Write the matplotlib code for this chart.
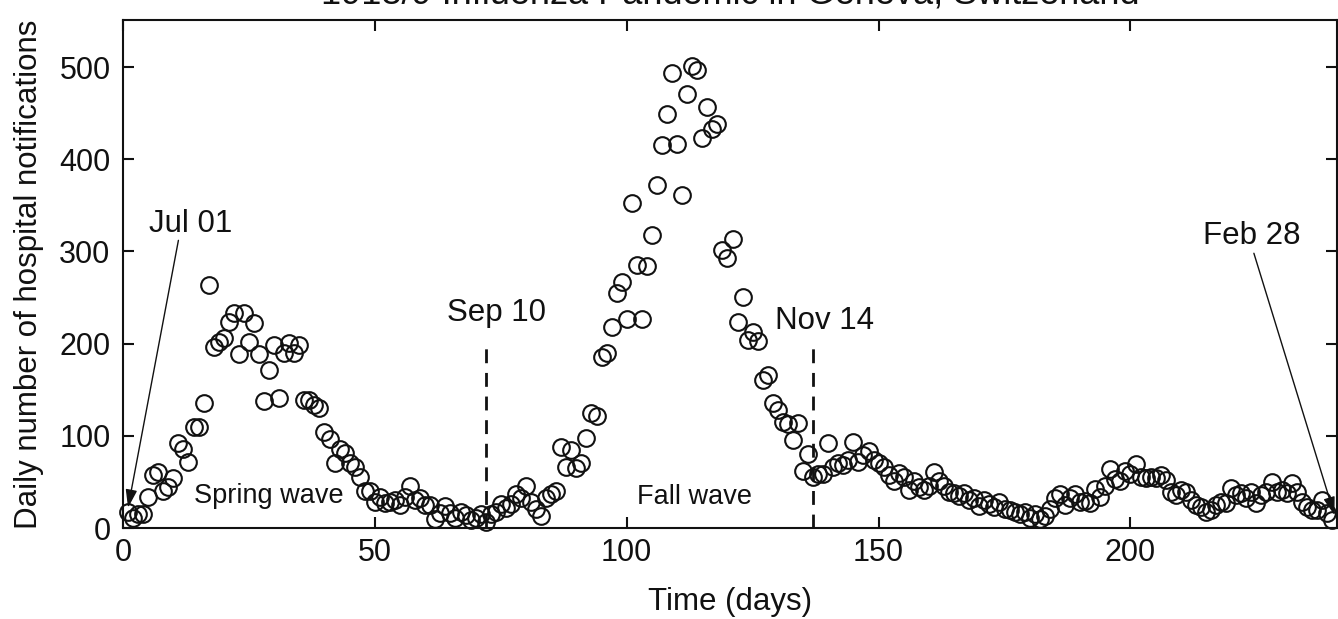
import matplotlib
matplotlib.use("Agg")
import matplotlib.pyplot as plt
import numpy as np

plt.rcParams['font.family'] = ['Liberation Sans', 'DejaVu Sans']

# Daily hospital notifications, day 1 (Jul 01) .. day 240 (Feb 28)
spring = [17, 11, 15, 15, 34, 57, 61, 40, 45, 54, 92, 86, 72, 110, 110, 136,
          264, 196, 202, 206, 223, 233, 189, 233, 202, 222, 189, 138, 171, 198,
          141, 190, 201, 190, 199,
          139, 139, 133, 130, 104, 96, 70, 86, 81, 71, 66, 55, 40, 40]
trough = [28, 34, 27, 28, 30, 25, 34, 46, 30, 33, 25, 25, 10, 16, 24, 16, 11,
          17, 14, 9, 11, 15, 7, 15, 17, 26, 22, 26, 37, 33, 46, 28, 21, 13, 33,
          37, 40]
fall = [88, 66, 85, 65, 71, 98, 125, 122, 185, 190, 218, 255, 267, 227, 353,
        285, 227, 284, 318, 372, 415, 449, 493, 416, 361, 471, 501, 497, 423,
        457, 433, 438,
        301, 293, 313, 223, 251, 204, 213, 203, 160, 166, 136, 128, 115, 113,
        95, 114, 62, 80]
winter = [55, 59, 59, 92, 66, 71, 68, 74, 93, 72, 79, 83, 74, 71, 66, 58, 51,
          60, 55, 41, 51, 45, 41, 46, 61, 51, 46, 39, 38, 35, 38, 30, 33, 24,
          30, 26, 23, 28, 21, 20, 17, 15, 17, 11, 15, 10, 13, 21, 32, 37, 25,
          32, 37, 28, 29, 27, 42, 34, 46, 64, 53, 51, 62, 59, 69,
          55, 54, 55, 54, 58, 52, 39, 36, 41, 39, 30, 25, 23, 17, 20, 25, 28,
          27, 43, 36, 38, 33, 39, 27, 36, 39, 50, 39, 41, 38, 49, 39, 28, 23,
          20, 20, 30, 16, 9]
values = spring + trough + fall + winter
days = list(range(1, len(values) + 1))

xticks = [0, 50, 100, 150, 200]
yticks = [0, 100, 200, 300, 400, 500]
title = "1918/9 Influenza Pandemic in Geneva, Switzerland"
# (label, day, text height)
marker_dates = [("Sep 10", 72, 233), ("Nov 14", 137, 225)]
# (label, arrow tip, arrow start, text position)
arrow_dates = [("Jul 01", (1, 22), (11, 312), (13.5, 330)),
               ("Feb 28", (240.5, 14), (224.5, 298), (224.0, 317))]
wave_labels = [("Spring wave", 29, 35), ("Fall wave", 113.5, 34)]

W, H = 1338, 619
fig = plt.figure(figsize=(W / 100, H / 100), dpi=100)
ax = fig.add_axes([123 / W, (H - 528) / H, (1337 - 123) / W, (528 - 20) / H])

ax.plot(days, values, linestyle='none', marker='o', markersize=12,
        markerfacecolor='none', markeredgecolor='#111111', markeredgewidth=1.5,
        clip_on=False, zorder=3)

ax.set_xlim(0, 241)
ax.set_ylim(0, 551)
ax.set_xticks(xticks)
ax.set_yticks(yticks)
ax.tick_params(direction='in', top=True, right=True, length=8, width=1.5,
               labelsize=22, pad=7, colors='#111111')
ax.tick_params(axis='y', pad=9)
for s in ax.spines.values():
    s.set_linewidth(1.5)
    s.set_color('#111111')

ax.set_xlabel("Time (days)", fontsize=22.5, labelpad=14, color='#111111')
ax.set_ylabel("Daily number of hospital notifications", fontsize=22.5,
              labelpad=11, color='#111111')

for lab, d, ty in marker_dates:
    ax.plot([d, d], [0, 198], linestyle=(0, (5, 3.5)), color='#111111', lw=2.0)
    ax.text(d + 2.2, ty, lab, fontsize=22.5, ha='center', va='center',
            color='#111111')

for lab, tip, start, tpos in arrow_dates:
    ax.annotate("", xy=tip, xytext=start,
                arrowprops=dict(arrowstyle='-|>,head_length=1.1,head_width=0.35',
                                color='#111111', lw=1.0, shrinkA=0, shrinkB=0),
                annotation_clip=False)
    ax.text(tpos[0], tpos[1], lab, fontsize=22.5, ha='center', va='center',
            color='#111111')

for lab, d, v in wave_labels:
    ax.text(d, v, lab, fontsize=19.5, ha='center', va='center', color='#111111')

fig.text((123 + 1337) / 2 / W, 1 - 4 / H, title, fontsize=26, ha='center',
         va='baseline', color='#111111')

fig.savefig("out.png", dpi=100)
